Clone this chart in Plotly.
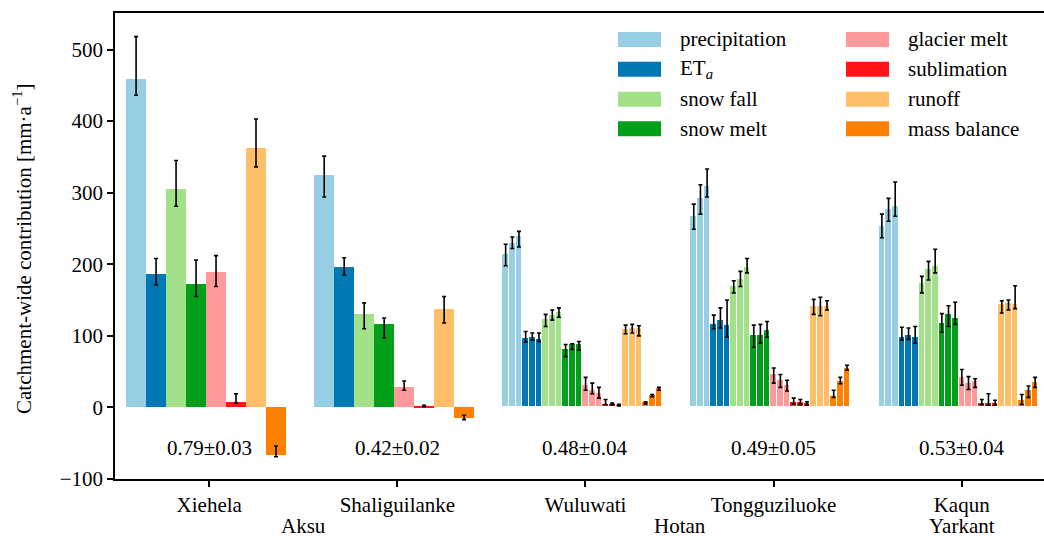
import plotly.graph_objects as go

# ---------------- data ----------------
catchments = ["Xiehela", "Shaliguilanke", "Wuluwati", "Tongguziluoke", "Kaqun"]
basins = ["Aksu", "Hotan", "Yarkant"]
basin_pos = [0.5, 2.5, 4.0]
n_sub = [1, 1, 3, 3, 3]          # number of sub-bars per catchment
ratios = ["0.79±0.03", "0.42±0.02", "0.48±0.04", "0.49±0.05", "0.53±0.04"]

variables = ["precipitation", "ET<sub><i>a</i></sub>", "snow fall", "snow melt",
             "glacier melt", "sublimation", "runoff", "mass balance"]
colors = ["#97CEE4", "#0078B4", "#A2E08A", "#00A01A",
          "#FF999A", "#FF1418", "#FFBF69", "#FF8000"]

precip_val = [459, 325, 214, 229, 239, 268, 292, 309, 253, 277, 281]
precip_hi = [518, 351, 228, 238, 246, 284, 311, 333, 270, 292, 315]
precip_lo = [436, 294, 198, 222, 224, 249, 270, 294, 237, 260, 267]

eta_val = [186, 196, 97, 99, 96, 117, 122, 115, 98, 101, 98]
eta_hi = [208, 209, 106, 104, 104, 129, 139, 150, 112, 111, 113]
eta_lo = [171, 185, 91, 94, 92, 110, 111, 98, 94, 95, 90]

snowfall_val = [305, 131, 123, 129, 134, 170, 180, 196, 174, 193, 198]
snowfall_hi = [345, 146, 130, 136, 139, 177, 190, 208, 183, 204, 221]
snowfall_lo = [281, 110, 113, 122, 126, 160, 169, 188, 160, 178, 188]

snowmelt_val = [172, 116, 82, 88, 88, 101, 101, 108, 118, 130, 125]
snowmelt_hi = [206, 125, 88, 89, 92, 115, 116, 120, 131, 142, 147]
snowmelt_lo = [155, 97, 71, 81, 80, 84, 90, 98, 105, 113, 116]

glacier_val = [189, 29, 32, 24, 20, 46, 38, 31, 43, 34, 37]
glacier_hi = [212, 37, 42, 34, 28, 55, 46, 38, 53, 43, 40]
glacier_lo = [169, 24, 24, 19, 13, 34, 28, 23, 31, 25, 28]

subl_val = [8, 1.5, 5, 5, 4, 8, 8, 6.5, 6.5, 6.5, 6.5]
subl_hi = [19, 3, 11, 6, 4.5, 13, 11, 8, 11, 19, 10]
subl_lo = [6, 1, 4, 3.5, 2, 5, 4, 3, 4, 3, 3]

runoff_val = [362, 138, 110, 111, 111, 142, 142, 142, 145, 146, 145]
runoff_hi = [403, 155, 115, 116, 114, 151, 154, 149, 149, 150, 170]
runoff_lo = [336, 118, 103, 104, 100, 130, 128, 136, 132, 136, 138]

mb_val = [-66, -15, 7, 17, 27, 16, 37, 55, 10, 24, 35]
mb_hi = [-54, -11, 8, 18, 28, 24, 42, 59, 18, 30, 42]
mb_lo = [-69, -17, 5, 15, 24, 14, 33, 52, 4, 14, 28]

series = [
    (precip_val, precip_hi, precip_lo),
    (eta_val, eta_hi, eta_lo),
    (snowfall_val, snowfall_hi, snowfall_lo),
    (snowmelt_val, snowmelt_hi, snowmelt_lo),
    (glacier_val, glacier_hi, glacier_lo),
    (subl_val, subl_hi, subl_lo),
    (runoff_val, runoff_hi, runoff_lo),
    (mb_val, mb_hi, mb_lo),
]

# ---------------- layout constants ----------------
W, H = 1044, 540
ML, MR, MT, MB = 115, 0, 13, 61
FONT = "Liberation Serif"
FS = 21
BAR_W = 0.85 / 8
SHIFT = -0.017
XR = [-0.501, 4.4375]
YR = [-100, 551]

fig = go.Figure()

for j, (vals, his, los) in enumerate(series):
    xs, ws, lw = [], [], []
    for c, ns in enumerate(n_sub):
        slot_left = c + SHIFT + (j - 4) * BAR_W
        for k in range(ns):
            xs.append(slot_left + (k + 0.5) * BAR_W / ns)
            ws.append(BAR_W / ns)
            lw.append(0 if ns == 1 else 1)
    fig.add_trace(go.Bar(
        x=xs, y=vals, width=ws,
        marker=dict(color=colors[j], line=dict(color="white", width=lw)),
        error_y=dict(type="data", symmetric=False,
                     array=[h - v for h, v in zip(his, vals)],
                     arrayminus=[v - l for v, l in zip(vals, los)],
                     color="black", thickness=1.6, width=2),
        showlegend=False, hoverinfo="skip",
    ))

fig.update_layout(
    width=W, height=H,
    margin=dict(l=ML, r=MR, t=MT, b=MB, pad=0),
    paper_bgcolor="white", plot_bgcolor="white",
    barmode="overlay", bargap=0,
    font=dict(family=FONT, size=FS, color="black"),
    xaxis=dict(range=XR, tickvals=list(range(len(catchments))), ticktext=catchments,
               showline=True, linecolor="black", linewidth=1.5, mirror=True,
               ticks="outside", ticklen=6, tickwidth=1.5, tickcolor="black",
               showgrid=False, zeroline=False, tickfont=dict(size=FS)),
    yaxis=dict(range=YR, tickvals=[-100, 0, 100, 200, 300, 400, 500],
               ticktext=["−100", "0", "100", "200", "300", "400", "500"],
               showline=True, linecolor="black", linewidth=1.5, mirror=False,
               ticks="outside", ticklen=6, tickwidth=1.5, tickcolor="black",
               showgrid=False, zeroline=False, tickfont=dict(size=FS)),
)

pw = W - ML - MR
ph = H - MT - MB


def px_x(px):
    return (px - ML) / pw


def px_y(py):
    return 1 - (py - MT) / ph


# y-axis title
fig.add_annotation(text="Catchment-wide contribution [mm·a<sup>−1</sup>]",
                   xref="paper", yref="paper", x=px_x(22), y=px_y(249),
                   textangle=-90, showarrow=False, xanchor="center", yanchor="middle",
                   font=dict(size=FS))

# ratio annotations
for c, txt in enumerate(ratios):
    fig.add_annotation(text=txt, x=c, y=-56, xref="x", yref="y",
                       showarrow=False, font=dict(size=FS))

# basin labels
for b, pos in zip(basins, basin_pos):
    fig.add_annotation(text=b, x=pos, xref="x", yref="paper", y=px_y(526),
                       showarrow=False, yanchor="middle", font=dict(size=FS))

# manual legend
leg_rows = [39.5, 69.3, 99.3, 128.7]
leg_cols = [(618, 661, 678), (846, 889, 906)]
for j, name in enumerate(variables):
    col, row = divmod(j, 4)
    x0, x1, xt = leg_cols[col]
    yc = leg_rows[row]
    fig.add_shape(type="rect", xref="paper", yref="paper",
                  x0=px_x(x0), x1=px_x(x1), y0=px_y(yc + 7.5), y1=px_y(yc - 7.5),
                  fillcolor=colors[j], line=dict(width=0))
    fig.add_annotation(text=name, xref="paper", yref="paper", x=px_x(xt), y=px_y(yc),
                       xanchor="left", yanchor="middle", showarrow=False,
                       font=dict(size=FS))

fig.write_html("out.html",
               config={"displayModeBar": False},
               post_script="document.body.style.margin='0px';"
                           "document.body.style.overflow='hidden';")
